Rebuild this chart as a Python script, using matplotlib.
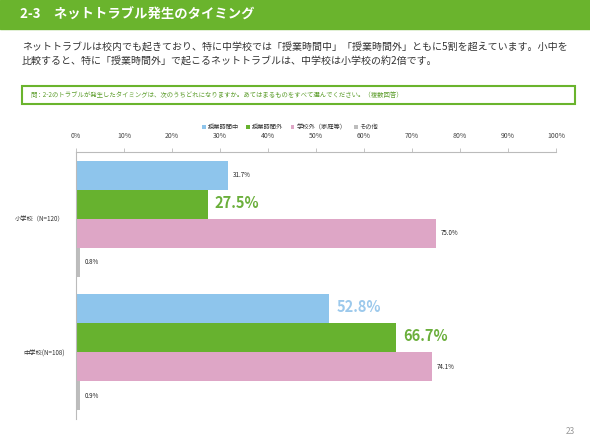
import numpy as np
import matplotlib
matplotlib.use("Agg")
import matplotlib.pyplot as plt
from matplotlib.patches import Rectangle

plt.rcParams["font.family"] = ["Noto Sans CJK JP", "DejaVu Sans"]

# data
categories = ["小学校（N=120）", "中学校(N=108)"]
series = ["授業時間中", "授業時間外", "学校外（家庭等）", "その他"]
elem_vals = [31.7, 27.5, 75.0, 0.8]
middle_vals = [52.8, 66.7, 74.1, 0.9]
colors = ["#8EC5EC", "#67B22F", "#DEA6C6", "#BDBDBD"]
# labels drawn big (highlighted) per category/series
highlight = [[False, True, False, False], [True, True, False, False]]
hl_colors = ["#9CC9EC", "#6BAF3C"]

title = "2-3　ネットトラブル発生のタイミング"
body1 = "ネットトラブルは校内でも起きており、特に中学校では「授業時間中」「授業時間外」ともに5割を超えています。小中を"
body2 = "比較すると、特に「授業時間外」で起こるネットトラブルは、中学校は小学校の約2倍です。"
question = "問：2-2のトラブルが発生したタイミングは、次のうちどれになりますか。あてはまるものをすべて選んでください。（複数回答）"

W, H = 590, 442
fig = plt.figure(figsize=(W / 100, H / 100), dpi=100)
fig.patch.set_facecolor("white")

# header band
fig.add_artist(Rectangle((0, 1 - 29 / H), 1, 29 / H, transform=fig.transFigure,
                         color="#6AB42D", zorder=0))
fig.text(20 / W, 1 - 15 / H, title, color="white", fontsize=9.6, fontweight="bold",
         va="center", ha="left")
fig.text(22 / W, 1 - 47 / H, body1, fontsize=7.2, color="#333333", va="center")
fig.text(22 / W, 1 - 61 / H, body2, fontsize=7.2, color="#333333", va="center")

# question box
fig.add_artist(Rectangle((22 / W, 1 - 104 / H), 553 / W, 18 / H, transform=fig.transFigure,
                         facecolor="white", edgecolor="#6AB42D", linewidth=1.5))
fig.text(30 / W, 1 - 95 / H, question, fontsize=4.6, color="#5E9E2E", va="center")

ax = fig.add_axes([76 / W, 1 - 419 / H, 480 / W, 267 / H])
data = np.array([elem_vals, middle_vals])
y = np.arange(len(categories))
h = 0.217
offsets = (np.arange(len(series)) - 1.5) * h
for j, s in enumerate(series):
    bars = ax.barh(y + offsets[j], data[:, j], height=h, color=colors[j], label=s)
    for i, rect in enumerate(bars):
        v = data[i, j]
        if highlight[i][j]:
            ax.text(v + 1.4, y[i] + offsets[j] - 0.01, f"{v:.1f}%", va="center", ha="left",
                    fontsize=10.5, fontweight="bold", color=hl_colors[j])
        else:
            ax.text(v + 1.0, y[i] + offsets[j], f"{v:.1f}%", va="center", ha="left",
                    fontsize=4.5, color="#222222")

ax.set_xlim(0, 100)
ax.set_ylim(1.5, -0.5)
ax.set_yticks(y)
ax.set_yticklabels(categories, fontsize=4.5, color="#333333")
ax.tick_params(axis="y", length=0, pad=8)
ax.xaxis.tick_top()
ax.set_xticks(np.arange(0, 101, 10))
ax.set_xticklabels([f"{t}%" for t in range(0, 101, 10)], fontsize=5, color="#444444")
ax.tick_params(axis="x", length=3, width=0.6, color="#BBBBBB", pad=6)
for side in ["right", "bottom"]:
    ax.spines[side].set_visible(False)
for side in ["top", "left"]:
    ax.spines[side].set_color("#BBBBBB")
    ax.spines[side].set_linewidth(0.8)

fig.legend(loc="center", bbox_to_anchor=(290 / W, 1 - 127 / H), ncol=4, frameon=False,
           fontsize=4.5, handlelength=0.6, handleheight=0.6, handletextpad=0.3,
           columnspacing=1.2, labelcolor="#333333")

fig.text(575 / W, 1 - 432 / H, "23", fontsize=6, color="#999999", ha="right", va="center")

fig.savefig("out.png", dpi=100)
